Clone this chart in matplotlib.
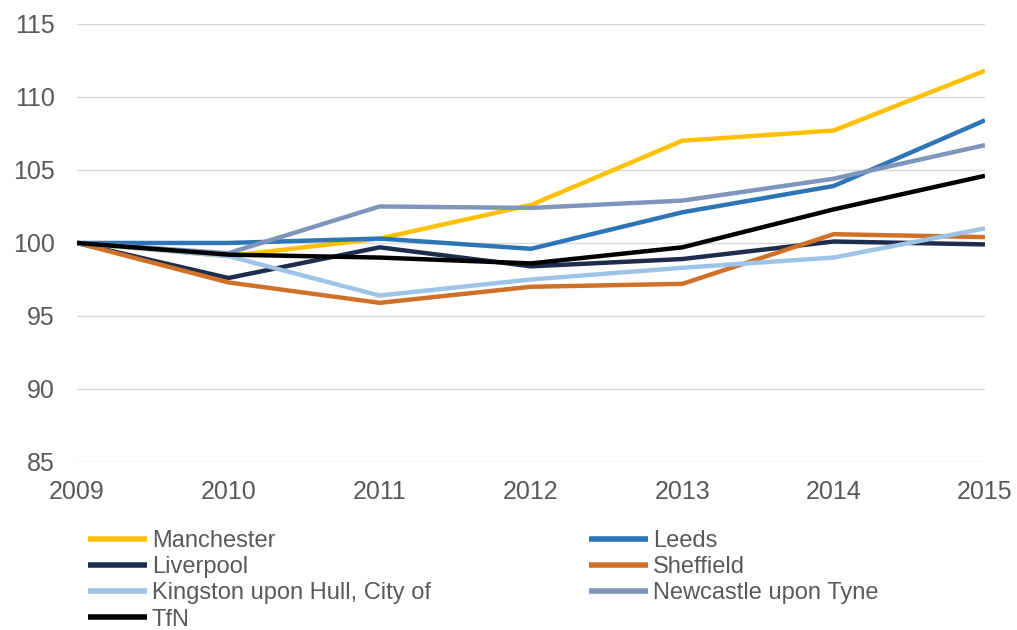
import matplotlib.pyplot as plt

# data
years = [2009, 2010, 2011, 2012, 2013, 2014, 2015]
manchester = [100, 99.1, 100.3, 102.6, 107.0, 107.7, 111.8]
leeds = [100, 100.0, 100.3, 99.6, 102.1, 103.9, 108.4]
liverpool = [100, 97.6, 99.7, 98.4, 98.9, 100.1, 99.9]
sheffield = [100, 97.3, 95.9, 97.0, 97.2, 100.6, 100.4]
hull = [100, 99.1, 96.4, 97.5, 98.3, 99.0, 101.0]
newcastle = [100, 99.3, 102.5, 102.4, 102.9, 104.4, 106.7]
tfn = [100, 99.2, 99.0, 98.6, 99.7, 102.3, 104.6]

names = ['Manchester', 'Leeds', 'Liverpool', 'Sheffield',
         'Kingston upon Hull, City of', 'Newcastle upon Tyne', 'TfN']
series = [manchester, leeds, liverpool, sheffield, hull, newcastle, tfn]
colors = ['#FFC000', '#2E75B6', '#1F2D4D', '#D0712A', '#9DC3E6', '#7F96BC', '#000000']

plt.rcParams['font.family'] = ['Liberation Sans', 'DejaVu Sans']

fig = plt.figure(figsize=(10.17, 6.3), dpi=100)
ax = fig.add_axes([0.0757, 0.2667, 0.8928, 0.6953])

lines = {}
for name, vals, c in zip(names, series, colors):
    lines[name], = ax.plot(years, vals, color=c, linewidth=3.2, solid_capstyle='butt')

ax.set_xlim(2009, 2015)
ax.set_ylim(85, 115)
ax.set_yticks(range(85, 116, 5))
ax.set_xticks(years)
ax.grid(axis='y', color='#D9D9D9', linewidth=1)
ax.set_axisbelow(True)
for s in ax.spines.values():
    s.set_visible(False)
ax.tick_params(length=0, labelsize=18, colors='#595959')
ax.tick_params(axis='y', pad=16)
ax.tick_params(axis='x', pad=13)

# legend order: column-wise fill
order = ['Manchester', 'Liverpool', 'Kingston upon Hull, City of', 'TfN',
         'Leeds', 'Sheffield', 'Newcastle upon Tyne']
leg = fig.legend([lines[n] for n in order], order, ncol=2, loc='upper left',
                 bbox_to_anchor=(0.0865, 0.158), frameon=False, fontsize=17,
                 handlelength=2.5, handletextpad=0.2, labelspacing=0.17,
                 columnspacing=6.7, borderaxespad=0, borderpad=0)
for t in leg.get_texts():
    t.set_color('#595959')
for h in leg.get_lines():
    h.set_linewidth(4)

fig.savefig('out.png', dpi=100)
